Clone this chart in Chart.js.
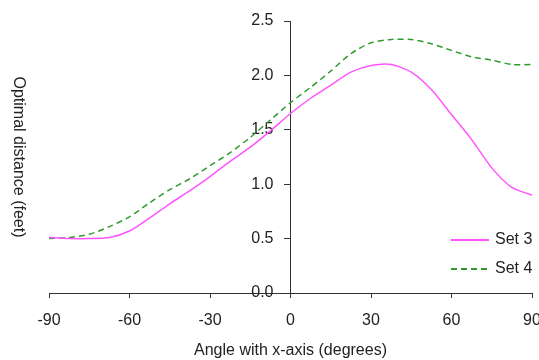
<!DOCTYPE html>
<html><head><meta charset="utf-8">
<script src="https://cdn.jsdelivr.net/npm/chart.js@4"></script>
<style>html,body{margin:0;padding:0;background:#fff}#wrap{width:539px;height:360px}</style>
</head><body><div id="wrap"><canvas id="c" width="539" height="360"></canvas></div>
<script>
const angles = [-90,-82.5,-75,-67.5,-60,-52.5,-45,-37.5,-30,-22.5,-15,-7.5,0,7.5,15,22.5,30,37.5,45,52.5,60,67.5,75,82.5,90];
const set3 = [0.51,0.50,0.50,0.51,0.57,0.69,0.82,0.94,1.07,1.21,1.34,1.49,1.65,1.79,1.91,2.03,2.09,2.10,2.03,1.87,1.64,1.41,1.15,0.97,0.90];
const set4 = [0.50,0.51,0.54,0.61,0.70,0.83,0.95,1.05,1.17,1.29,1.43,1.59,1.75,1.89,2.04,2.20,2.30,2.33,2.33,2.29,2.23,2.17,2.14,2.10,2.10];
const xTicks = [-90,-60,-30,0,30,60,90];
const yTicks = [0,0.5,1.0,1.5,2.0,2.5];
const seriesNames = ['Set 3','Set 4'];
const xTitle = 'Angle with x-axis (degrees)';
const yTitle = 'Optimal distance (feet)';

const FONT = {family: '"Liberation Sans", Arial, sans-serif', size: 16};
const TXT = '#222';
const AX = '#333';
const Y_LABEL_SHIFT = 17;

const legendPlugin = {
  id: 'insideLegend',
  afterDraw(chart) {
    const ctx = chart.ctx, a = chart.chartArea;
    ctx.save();
    ctx.font = '16px "Liberation Sans", Arial, sans-serif';
    ctx.textBaseline = 'middle';
    ctx.textAlign = 'left';
    chart.data.datasets.forEach((ds, i) => {
      const y = 240 + i * 29;
      const x0 = a.right - 81, x1 = a.right - 43;
      ctx.strokeStyle = ds.borderColor;
      ctx.lineWidth = 2;
      ctx.setLineDash(ds.borderDash || []);
      ctx.beginPath(); ctx.moveTo(x0, y); ctx.lineTo(x1, y); ctx.stroke();
      ctx.setLineDash([]);
      ctx.fillStyle = TXT;
      ctx.fillText(ds.label, a.right - 37, y);
    });
    ctx.restore();
  }
};

function shiftYLabels(s) {
  if (s._shiftPatched) return;
  s._shiftPatched = true;
  const orig = s._computeLabelItems;
  s._computeLabelItems = function (ca) {
    const items = orig.call(this, ca);
    items.forEach(it => { if (it.options && it.options.translation) it.options.translation[0] -= Y_LABEL_SHIFT; });
    return items;
  };
}

new Chart(document.getElementById('c'), {
  type: 'line',
  data: {
    labels: angles,
    datasets: [
      {label: seriesNames[0], data: angles.map((a, i) => ({x: a, y: set3[i]})), borderColor: '#ff55ff', borderWidth: 1.5, pointRadius: 0, tension: 0.25, fill: false},
      {label: seriesNames[1], data: angles.map((a, i) => ({x: a, y: set4[i]})), borderColor: '#2f9a2f', borderWidth: 1.5, borderDash: [6, 4], pointRadius: 0, tension: 0.25, fill: false}
    ]
  },
  options: {
    responsive: false,
    animation: false,
    devicePixelRatio: 1,
    layout: {padding: {left: 49, right: 7, top: 21, bottom: 0}},
    plugins: {legend: {display: false}, tooltip: {enabled: false}},
    scales: {
      x: {
        type: 'linear', min: -90, max: 90,
        afterBuildTicks: s => { s.ticks = xTicks.map(v => ({value: v})); },
        afterFit: s => { s.paddingLeft = 0; s.paddingRight = 0; s.height = 67; },
        grid: {display: true, drawOnChartArea: false, tickLength: 5, color: AX},
        border: {display: true, color: AX, width: 1},
        ticks: {font: FONT, color: TXT, padding: 13, maxRotation: 0, autoSkip: false},
        title: {display: true, text: xTitle, font: FONT, color: TXT, padding: {top: 4, bottom: 0}}
      },
      y: {
        type: 'linear', min: 0, max: 2.5,
        position: {x: 0},
        afterBuildTicks: s => { s.ticks = yTicks.map(v => ({value: v})); },
        afterFit: s => { s.width = 282; shiftYLabels(s); },
        grid: {display: true, drawOnChartArea: false, tickLength: 6, color: AX},
        border: {display: true, color: AX, width: 1},
        ticks: {font: FONT, color: TXT, padding: 10, callback: v => Number(v).toFixed(1)},
        title: {display: true, text: yTitle, font: FONT, color: TXT, padding: 0}
      }
    }
  },
  plugins: [legendPlugin]
});
</script>
</body></html>
